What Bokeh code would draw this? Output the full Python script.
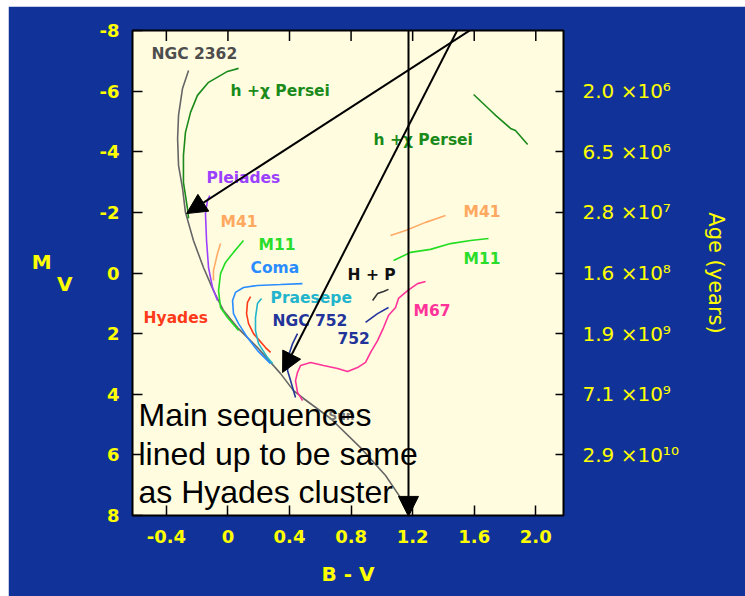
from bokeh.plotting import figure
from bokeh.models import Range1d, LinearAxis, FixedTicker, Label, Arrow, NormalHead
from bokeh.core.properties import value
from bokeh.embed import file_html
from bokeh.resources import INLINE

# ---------------- data ----------------
bv_ticks = [-0.4, 0.0, 0.4, 0.8, 1.2, 1.6, 2.0]
bv_labels = ["-0.4", "0", "0.4", "0.8", "1.2", "1.6", "2.0"]
mv_ticks = [-8, -6, -4, -2, 0, 2, 4, 6, 8]
mv_labels = ["-8", "-6", "-4", "-2", "0", "2", "4", "6", "8"]
age_ticks = [-6, -4, -2, 0, 2, 4, 6]
age_labels = ["2.0 \u00d710\u2076", "6.5 \u00d710\u2076", "2.8 \u00d710\u2077", "1.6 \u00d710\u2078",
              "1.9 \u00d710\u2079", "7.1 \u00d710\u2079", "2.9 \u00d710\u00b9\u2070"]

ngc2362_bv = [-0.256, -0.295, -0.321, -0.327, -0.321, -0.295, -0.276, -0.224, -0.159, -0.094, -0.029,
              0.062, 0.192, 0.342, 0.426, 0.491, 0.667, 0.861, 1.024, 1.121]
ngc2362_mv = [-6.68, -6.09, -5.20, -4.44, -3.55, -2.79, -2.00, -1.07, -0.18, 0.58, 1.24,
              1.80, 2.46, 3.32, 3.88, 4.14, 4.80, 5.76, 6.68, 7.41]

hchi_bv = [0.069, -0.003, -0.126, -0.198, -0.243, -0.276, -0.289, -0.289, -0.263, -0.256]
hchi_mv = [-6.75, -6.65, -6.29, -5.86, -5.30, -4.64, -3.88, -2.99, -2.13, -1.80]
hchi_giant_bv = [1.596, 1.706, 1.739, 1.836, 1.868, 1.947]
hchi_giant_mv = [-5.89, -5.36, -5.20, -4.77, -4.70, -4.24]

pleiades_bv = [-0.118, -0.133, -0.146, -0.139, -0.126, -0.100, -0.068]
pleiades_mv = [-2.55, -2.39, -1.96, -1.07, -0.18, 0.48, 0.91]

m41_bv = [-0.048, -0.068, -0.094, -0.094]
m41_mv = [-0.97, -0.64, -0.08, 0.25]
m41_giant_bv = [1.056, 1.154, 1.284, 1.414]
m41_giant_mv = [-1.24, -1.40, -1.67, -1.90]

m11_bv = [0.101, 0.036, -0.016, -0.048, -0.061, -0.048, -0.003, 0.069]
m11_mv = [-1.07, -0.68, -0.35, 0.02, 0.58, 1.14, 1.47, 1.90]
m11_giant_bv = [1.076, 1.186, 1.316, 1.446, 1.576, 1.693]
m11_giant_mv = [-0.41, -0.68, -0.78, -0.97, -1.07, -1.14]

coma_bv = [0.484, 0.342, 0.192, 0.101, 0.049, 0.030, 0.036, 0.069, 0.127, 0.192, 0.277]
coma_mv = [0.35, 0.38, 0.41, 0.48, 0.64, 0.91, 1.34, 1.67, 2.13, 2.56, 2.99]

hyades_bv = [0.147, 0.127, 0.121, 0.134, 0.166, 0.244, 0.277]
hyades_mv = [0.78, 0.97, 1.34, 1.67, 2.00, 2.46, 2.62]

praesepe_bv = [0.218, 0.192, 0.179, 0.179, 0.199, 0.257, 0.290]
praesepe_mv = [0.84, 1.01, 1.47, 1.90, 2.33, 2.79, 2.99]

ngc752_bv = [0.452, 0.420, 0.394, 0.387, 0.407, 0.439]
ngc752_mv = [2.00, 2.33, 2.72, 3.22, 3.55, 4.11]
ngc752_giant_bv = [0.894, 0.972, 1.043]
ngc752_giant_mv = [1.63, 1.34, 1.14]

hp_bv = [0.940, 0.972, 1.011, 1.043]
hp_mv = [0.91, 0.68, 0.61, 0.54]

m67_bv = [1.284, 1.232, 1.167, 1.108, 1.089, 1.043, 1.011, 0.972, 0.927, 0.894, 0.842, 0.777,
          0.712, 0.621, 0.537, 0.472, 0.452, 0.439, 0.452, 0.485]
m67_mv = [0.28, 0.35, 0.58, 0.84, 1.14, 1.40, 1.80, 2.23, 2.62, 2.95, 3.12, 3.25,
          3.15, 3.05, 2.95, 3.05, 3.28, 3.55, 3.94, 4.21]

cluster_names = ["NGC 2362", "h +\u03c7 Persei", "h +\u03c7 Persei", "Pleiades", "M41", "M41", "M11", "M11",
                 "Coma", "H + P", "Praesepe", "M67", "Hyades", "NGC 752", "752"]

note_lines = ["Main sequences", "lined up to be same", "as Hyades cluster"]

# ---------------- styles ----------------
BLUE = "#113399"
CREAM = "#fffce0"
YELLOW = "#ffff00"
NB = "\u00a0"

p = figure(width=737, height=590, x_range=Range1d(-0.62, 2.18), y_range=Range1d(8, -8),
           output_backend="svg", toolbar_location=None,
           min_border_left=124, min_border_right=182, min_border_top=24, min_border_bottom=81,
           background_fill_color=CREAM, border_fill_color=BLUE,
           outline_line_color="black", outline_line_width=2)
p.margin = (6, 0, 0, 8)
p.grid.visible = False


def style_axis(ax, ticks, labels, bold=True, size="18px"):
    ax.ticker = FixedTicker(ticks=ticks)
    ax.major_label_overrides = dict(zip(ticks, labels))
    ax.axis_line_color = None
    ax.major_tick_in = 10
    ax.major_tick_out = 0
    ax.major_tick_line_color = "black"
    ax.major_tick_line_width = 1.5
    ax.minor_tick_line_color = None
    ax.major_label_text_color = YELLOW
    ax.major_label_text_font = "DejaVu Sans"
    ax.major_label_text_font_style = "bold" if bold else "normal"
    ax.major_label_text_font_size = size


xa = p.xaxis[0]
style_axis(xa, bv_ticks, bv_labels)
xa.major_label_standoff = 14
xa.axis_label = "B - V"
xa.axis_label_text_color = YELLOW
xa.axis_label_text_font = "DejaVu Sans"
xa.axis_label_text_font_style = "bold"
xa.axis_label_text_font_size = "20px"
xa.axis_label_standoff = 16

ya = p.yaxis[0]
style_axis(ya, mv_ticks, mv_labels)
ya.major_label_standoff = 13
ya.axis_label = "M" + NB * 3 + "\n" + NB * 3 + "V"
ya.axis_label_orientation = "horizontal"
ya.axis_label_text_color = YELLOW
ya.axis_label_text_font = "DejaVu Sans"
ya.axis_label_text_font_style = "bold"
ya.axis_label_text_font_size = "20px"
ya.axis_label_text_line_height = 0.9
ya.axis_label_standoff = 24

ra = LinearAxis()
style_axis(ra, age_ticks, age_labels, bold=False, size="20px")
ra.major_tick_in = 8
ra.major_label_standoff = 19
ra.axis_label = "Age (years)"
ra.axis_label_text_color = YELLOW
ra.axis_label_text_font = "DejaVu Sans"
ra.axis_label_text_font_style = "normal"
ra.axis_label_text_font_size = "21px"
ra.axis_label_standoff = 22
p.add_layout(ra, "right")

# inward ticks along the top edge, at the B-V tick positions
top_edge = [p.y_range.end] * len(bv_ticks)
top_tick_end = [p.y_range.end + 0.35] * len(bv_ticks)
p.segment(x0=bv_ticks, y0=top_edge, x1=bv_ticks, y1=top_tick_end, line_color="black", line_width=1.5)

# ---------------- curves ----------------
curves = [
    (ngc2362_bv, ngc2362_mv, "#666666"),
    (hchi_bv, hchi_mv, "#1a8a1a"),
    (hchi_giant_bv, hchi_giant_mv, "#1a8a1a"),
    (pleiades_bv, pleiades_mv, "#9b40ff"),
    (m41_bv, m41_mv, "#ffaa66"),
    (m41_giant_bv, m41_giant_mv, "#ffaa66"),
    (m11_bv, m11_mv, "#22dd22"),
    (m11_giant_bv, m11_giant_mv, "#22dd22"),
    (coma_bv, coma_mv, "#2a8cff"),
    (hyades_bv, hyades_mv, "#ff3a1a"),
    (praesepe_bv, praesepe_mv, "#22b4cc"),
    (ngc752_bv, ngc752_mv, "#22349a"),
    (ngc752_giant_bv, ngc752_giant_mv, "#22349a"),
    (hp_bv, hp_mv, "#333333"),
    (m67_bv, m67_mv, "#ff3399"),
]
for xs, ys, c in curves:
    p.line(xs, ys, line_color=c, line_width=1.6)

# ---------------- cluster labels ----------------
label_x = [-0.496, 0.017, 0.946, -0.139, -0.048, 1.531, 0.199, 1.531, 0.147, 0.777, 0.277, 1.206, -0.548, 0.290, 0.712]
label_y = [-7.21, -6.02, -4.40, -3.12, -1.67, -2.00, -0.91, -0.45, -0.15, 0.05, 0.84, 1.24, 1.47, 1.57, 2.16]
label_colors = ["#4d4d4d", "#1a8a1a", "#1a8a1a", "#9b40ff", "#ffa860", "#ffa860", "#2add2a", "#2add2a",
                "#2a8cff", "#111111", "#22b4cc", "#ff3399", "#ff3a1a", "#22349a", "#22349a"]
p.text(x=label_x, y=label_y, text=cluster_names, text_color=label_colors,
       text_font=value("DejaVu Sans"), text_font_style="bold", text_font_size="15.5px",
       text_baseline="middle", text_align="left")

p.text(x=[0.654], y=[4.73], text=["Sun"], text_color="#777777", text_font=value("DejaVu Sans"),
       text_font_style="bold", text_font_size="12px", text_baseline="middle", text_align="left")

# ---------------- note text ----------------
note_y = [4.70, 5.96, 7.23]
for t, yy in zip(note_lines, note_y):
    p.add_layout(Label(x=-0.581, y=yy, text=t, text_color="black", text_font="Liberation Sans",
                       text_font_size="32px", text_baseline="alphabetic"))

# ---------------- arrows ----------------
arrow_start_x = [1.872, 1.589, 1.173]
arrow_start_y = [-8.99, -8.99, -8.99]
arrow_end_x = [-0.269, 0.355, 1.173]
arrow_end_y = [-1.96, 3.28, 8.03]
for xs_, ys_, xe, ye in zip(arrow_start_x, arrow_start_y, arrow_end_x, arrow_end_y):
    p.add_layout(Arrow(end=NormalHead(size=20, fill_color="black", line_color="black"),
                       x_start=xs_, y_start=ys_, x_end=xe, y_end=ye,
                       line_color="black", line_width=2))

open("out.html", "w").write(file_html(p, INLINE))
